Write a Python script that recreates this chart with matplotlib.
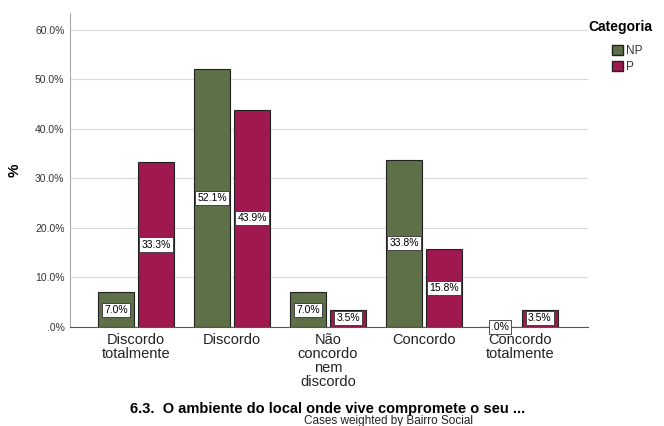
import numpy as np
import matplotlib.pyplot as plt
from matplotlib.patches import Patch

plt.rcParams['font.family'] = ['Liberation Sans', 'DejaVu Sans']

categories = ['Discordo\ntotalmente', 'Discordo', 'Não\nconcordo\nnem\ndiscordo', 'Concordo', 'Concordo\ntotalmente']
np_values = [7.0, 52.1, 7.0, 33.8, 0.0]
p_values = [33.3, 43.9, 3.5, 15.8, 3.5]
series_names = ['NP', 'P']

green = '#5d7047'
magenta = '#9f184f'

fig = plt.figure(figsize=(6.64, 4.26), dpi=100)
ax = fig.add_axes([70 / 664, 1 - 327 / 426, 518 / 664, (327 - 13) / 426])

x = np.arange(len(categories))
w = 0.375
off = 0.208

def fmt(v):
    s = f'{v:.1f}%'
    return s[1:] if s.startswith('0') else s

for vals, color, sign in [(np_values, green, -1), (p_values, magenta, 1)]:
    ax.bar(x + sign * off, vals, width=w, color=color, edgecolor='#222222', linewidth=0.8, zorder=3)
    for xi, v in zip(x, vals):
        ax.text(xi + sign * off, v / 2, fmt(v), ha='center', va='center', fontsize=7.5,
                color='black', zorder=5,
                bbox=dict(boxstyle='square,pad=0.2', facecolor='white', edgecolor='#333333', linewidth=0.6))

ax.set_xlim(-0.69, 4.71)
ax.set_ylim(0, 63.4)
ax.set_yticks(np.arange(0, 61, 10))
ax.set_yticklabels(['.0%'] + [f'{v:.1f}%' for v in range(10, 61, 10)], fontsize=7.5, color='#333333')
ax.set_xticks(x)
ax.set_xticklabels(categories, fontsize=10.5, color='#222222', linespacing=1.02)
ax.tick_params(length=0, pad=4)
ax.grid(axis='y', color='#d9d9d9', linewidth=0.8, zorder=0)
for side in ['top', 'right']:
    ax.spines[side].set_visible(False)
ax.spines['left'].set_color('#aaaaaa')
ax.spines['bottom'].set_color('#555555')
ax.spines['bottom'].set_zorder(4)

fig.text(15 / 664, 1 - 170 / 426, '%', rotation=90, fontsize=11, fontweight='bold', ha='center', va='center')
fig.text(328 / 664, 1 - 409 / 426, '6.3.  O ambiente do local onde vive compromete o seu ...',
         fontsize=10.5, fontweight='bold', ha='center', va='center')
fig.text(389 / 664, 1 - 421 / 426, 'Cases weighted by Bairro Social', fontsize=8.5, ha='center', va='center',
         color='#222222')

# legend title and entries (entries indented under title like the reference)
fig.text(588 / 664, 1 - 27 / 426, 'Categoria', fontsize=10, fontweight='bold', ha='left', va='center')
handles = [Patch(facecolor=green, edgecolor='#222222'), Patch(facecolor=magenta, edgecolor='#222222')]
leg = fig.legend(handles, series_names, loc='upper left',
                 bbox_to_anchor=(604 / 664, 1 - 37 / 426), frameon=False, fontsize=8.5,
                 handlelength=0.9, handleheight=0.9, handletextpad=0.3, labelspacing=0.35,
                 borderpad=0.2)
for t in leg.get_texts():
    t.set_color('#333333')

fig.savefig('out.png', dpi=100)
